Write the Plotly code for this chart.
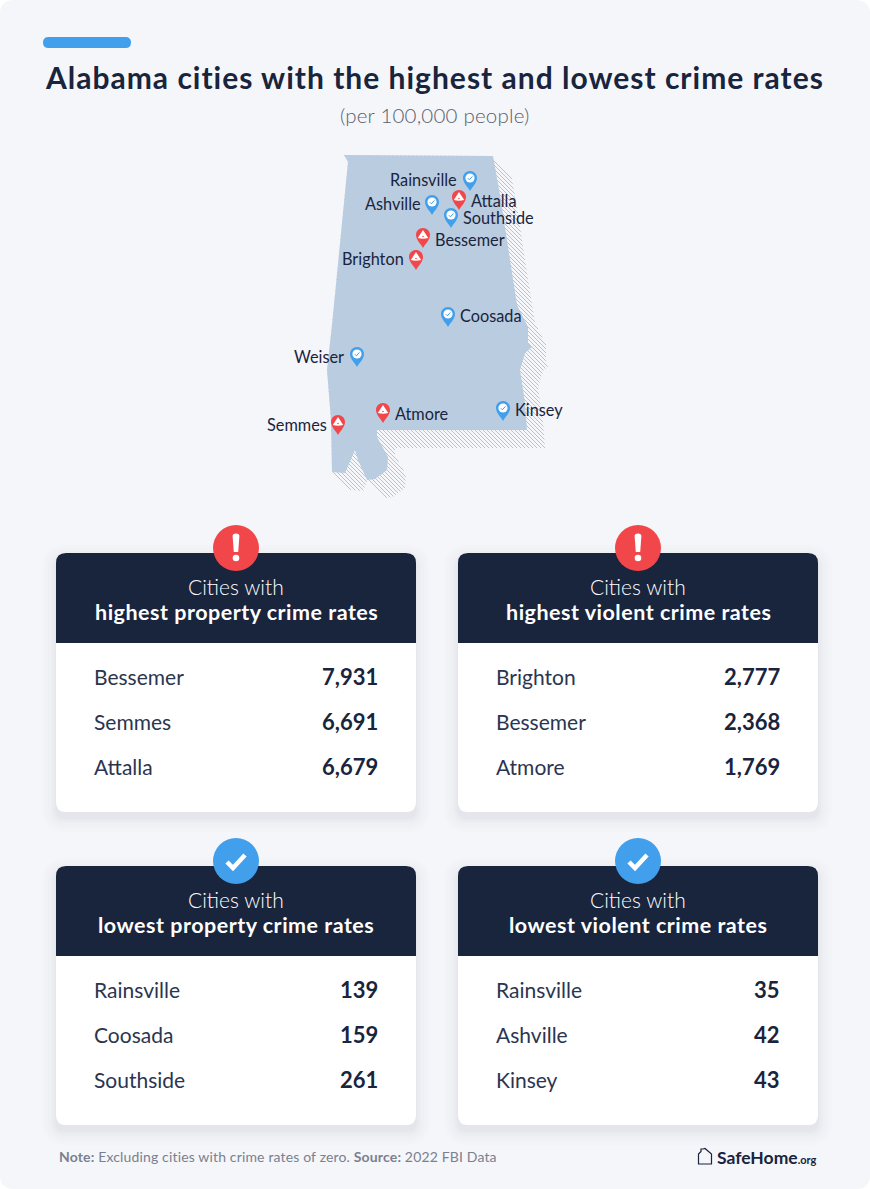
import plotly.graph_objects as go

# ---------- data ----------
TITLE = "Alabama cities with the highest and lowest crime rates"
SUBTITLE = "(per 100,000 people)"
card_headline = ["highest property crime rates", "highest violent crime rates",
                 "lowest property crime rates", "lowest violent crime rates"]
high_property_cities = ["Bessemer", "Semmes", "Attalla"]
high_property_values = [7931, 6691, 6679]
high_violent_cities = ["Brighton", "Bessemer", "Atmore"]
high_violent_values = [2777, 2368, 1769]
low_property_cities = ["Rainsville", "Coosada", "Southside"]
low_property_values = [139, 159, 261]
low_violent_cities = ["Rainsville", "Ashville", "Kinsey"]
low_violent_values = [35, 42, 43]
high_pin_cities = ["Attalla", "Bessemer", "Brighton", "Semmes", "Atmore"]
low_pin_cities = ["Rainsville", "Ashville", "Southside", "Coosada", "Weiser", "Kinsey"]

# ---------- layout tables (pixels) ----------
FONT = "Lato"
NAVY, BLUE, RED = "#19243D", "#419FEB", "#F2474A"
BG, MAP_FILL, HATCH = "#F5F6F9", "#B9CCE0", "#B7C3D2"
PIN_AT = {"Rainsville": (470, 178), "Attalla": (459, 197), "Ashville": (432, 202),
          "Southside": (451, 215), "Bessemer": (423, 235), "Brighton": (416, 257),
          "Coosada": (448, 314), "Weiser": (357, 354), "Semmes": (338, 422),
          "Atmore": (383, 410), "Kinsey": (503, 408)}
LABEL_AT = {"Rainsville": ("r", 457, 179), "Attalla": ("l", 471, 200), "Ashville": ("r", 421, 203),
            "Southside": ("l", 463, 217), "Bessemer": ("l", 435, 239), "Brighton": ("r", 404, 258),
            "Coosada": ("l", 460, 315), "Weiser": ("r", 344, 356), "Semmes": ("r", 327, 424),
            "Atmore": ("l", 395, 413), "Kinsey": ("l", 515, 409)}
OUTLINE = [(344, 155), (493, 156), (500, 195), (507, 242), (517, 305), (528, 327), (528, 343),
           (532, 347), (525, 353), (520, 370), (525, 403), (527, 430), (377, 430), (377, 437),
           (388, 457), (387, 470), (375, 479), (367, 480), (358, 460), (355, 450), (345, 473),
           (332, 472), (331, 420), (327, 370), (332, 325), (348, 162)]

shapes, overlay, annos = [], [], []


def rrect(x0, y0, x1, y1, r):
    return (f"M{x0+r},{y0} L{x1-r},{y0} Q{x1},{y0} {x1},{y0+r} L{x1},{y1-r} "
            f"Q{x1},{y1} {x1-r},{y1} L{x0+r},{y1} Q{x0},{y1} {x0},{y1-r} L{x0},{y0+r} Q{x0},{y0} {x0+r},{y0} Z")


def add_path(path, fill=None, line=None, width=0, opacity=1, target=None):
    (shapes if target is None else target).append(
        dict(type="path", path=path, fillcolor=fill or "rgba(0,0,0,0)", opacity=opacity,
             line=dict(color=line or "rgba(0,0,0,0)", width=width), xref="x", yref="y",
             layer="between" if target is None else "above"))


def add_circle(cx, cy, r, fill, target=None):
    (shapes if target is None else target).append(
        dict(type="circle", x0=cx - r, x1=cx + r, y0=cy - r, y1=cy + r, fillcolor=fill,
             line=dict(width=0), xref="x", yref="y", layer="between" if target is None else "above"))


def add_text(x, y, text, size, color=NAVY, anchor="center", spacing=0, weight=None):
    if spacing:
        text = f'<span style="letter-spacing:{spacing}px">{text}</span>'
    f = dict(family=FONT, size=size, color=color)
    if weight:
        f["weight"] = weight
    annos.append(dict(x=x, y=y, text=text, showarrow=False, xanchor=anchor, yanchor="middle",
                      font=f, xref="x", yref="y", borderpad=0, borderwidth=0))


# page
add_path(rrect(0, 0, 870, 1189, 14), fill=BG)
add_path(rrect(43, 37, 131, 48, 5.5), fill=BLUE)
add_text(434.5, 77, f"<b>{TITLE}</b>", 30, spacing=1.0)
add_text(435, 115, SUBTITLE, 20.5, "#575F70", weight=300, spacing=0.2)

# ---------- map hatch: outline swept along the 45-degree direction ----------
SWEEP = 18
hx, hy = [], []
for c in range(-345, 200, 4):
    xs = []
    for (ax, ay), (bx, by) in zip(OUTLINE, OUTLINE[1:] + OUTLINE[:1]):
        da, db = ay - ax - c, by - bx - c
        if (da < 0) != (db < 0):
            xs.append(ax + (bx - ax) * da / (da - db))
    xs.sort()
    for a, b in zip(xs[::2], xs[1::2]):
        hx += [a, b + SWEEP, None]
        hy += [a + c, b + SWEEP + c, None]


def pin_path(x, y):
    return (f"M{x},{y+13} C{x-2},{y+9} {x-7},{y+5} {x-7},{y} C{x-7},{y-3.9} {x-3.9},{y-7} {x},{y-7} "
            f"C{x+3.9},{y-7} {x+7},{y-3.9} {x+7},{y} C{x+7},{y+5} {x+2},{y+9} {x},{y+13} Z")


# ---------- cards ----------
CARD_X = [56, 458, 56, 458]
CARD_Y = [553, 553, 866, 866]
rows = [(high_property_cities, high_property_values), (high_violent_cities, high_violent_values),
        (low_property_cities, low_property_values), (low_violent_cities, low_violent_values)]
for i in range(4):
    x0, y0 = CARD_X[i], CARD_Y[i]
    x1, y1 = x0 + 360, y0 + 259
    for grow, op in ((14, .010), (11, .011), (8, .012), (5, .014), (3, .016), (1, .02)):
        add_path(rrect(x0 - grow, y0 - grow + 6, x1 + grow, y1 + grow + 6, 10 + grow), fill="#3A4A6B", opacity=op)
    add_path(rrect(x0, y0, x1, y1, 10), fill="#FFFFFF")
    add_path(f"M{x0},{y0+90} L{x0},{y0+10} Q{x0},{y0} {x0+10},{y0} L{x1-10},{y0} Q{x1},{y0} {x1},{y0+10} L{x1},{y0+90} Z",
             fill=NAVY)
    cx, cy = x0 + 180, y0 - 5
    is_high = i < 2
    add_circle(cx, cy, 23, RED if is_high else BLUE)
    if is_high:
        add_path(f"M{cx-3.4},{cy-12} Q{cx-3.4},{cy-14.5} {cx},{cy-14.5} Q{cx+3.4},{cy-14.5} {cx+3.4},{cy-12} L{cx+2.2},{cy+4} L{cx-2.2},{cy+4} Z",
                 fill="#FFFFFF")
        add_circle(cx, cy + 10, 3.3, "#FFFFFF")
    else:
        add_path(f"M{cx-9},{cy+1} L{cx-3},{cy+7} L{cx+9},{cy-6}", line="#FFFFFF", width=4.5)
    add_text(cx, y0 + 33.5, "Cities with", 21, "#FFFFFF", weight=300)
    add_text(cx, y0 + 58.5, f"<b>{card_headline[i]}</b>", 21.5, "#FFFFFF", spacing=0.5)
    names, vals = rows[i]
    for j, (n, v) in enumerate(zip(names, vals)):
        yy = y0 + 123 + 45 * j
        add_text(x0 + 38, yy, n, 21, "#2B3550", "left")
        add_text(x0 + 322, yy, f"<b>{v:,}</b>", 22, NAVY, "right")

# ---------- map ----------
fig = go.Figure()
fig.add_trace(go.Scatter(x=hx, y=hy, mode="lines", line=dict(color=HATCH, width=1), hoverinfo="skip"))
fig.add_trace(go.Scatter(x=[p[0] for p in OUTLINE] + [OUTLINE[0][0]], y=[p[1] for p in OUTLINE] + [OUTLINE[0][1]],
                         mode="lines", fill="toself", fillcolor=MAP_FILL, line=dict(width=0), hoverinfo="skip"))

for name in high_pin_cities + low_pin_cities:
    x, y = PIN_AT[name]
    high = name in high_pin_cities
    add_path(pin_path(x, y), fill=RED if high else BLUE, target=overlay)
    if high:
        add_path(f"M{x},{y-5} L{x+5.2},{y+3} Q{x},{y+4.5} {x-5.2},{y+3} Z", fill="#FFFFFF", target=overlay)
        add_circle(x, y + 1.5, 0.8, RED, target=overlay)
    else:
        add_circle(x, y, 4.6, "#FFFFFF", target=overlay)
        add_path(f"M{x-2.2},{y+.2} L{x-.6},{y+1.8} L{x+2.4},{y-1.6}", line=BLUE, width=1, target=overlay)
    a, lx, ly = LABEL_AT[name]
    add_text(lx, ly, name, 16.3, NAVY, "left" if a == "l" else "right")

# footer
add_text(59, 1156.5, "<b>Note:</b> Excluding cities with crime rates of zero. <b>Source:</b> 2022 FBI Data",
         14, "#7A8090", "left", spacing=0.15)
add_path("M698.5,1164 L698.5,1154 L701,1151.5 L701,1149 L703,1149 L705,1148.5 L711.5,1154 L711.5,1164 Z",
         line=NAVY, width=1.2)
annos.append(dict(x=819, y=1157, text='<b>SafeHome</b><span style="font-size:11px"><b>.org</b></span>',
                  showarrow=False, xanchor="right", yanchor="middle",
                  font=dict(family=FONT, size=17.5, color=NAVY), xref="x", yref="y"))

fig.update_layout(width=870, height=1189, autosize=False, margin=dict(l=0, r=0, t=0, b=0, pad=0),
                  paper_bgcolor="#FFFFFF", plot_bgcolor="rgba(0,0,0,0)", showlegend=False,
                  shapes=shapes + overlay, annotations=annos,
                  xaxis=dict(range=[0, 870], visible=False, fixedrange=True),
                  yaxis=dict(range=[1189, 0], visible=False, fixedrange=True))
fig.write_html("out.html", config={"displayModeBar": False},
               post_script="document.body.style.margin='0';document.body.style.overflow='hidden';")
